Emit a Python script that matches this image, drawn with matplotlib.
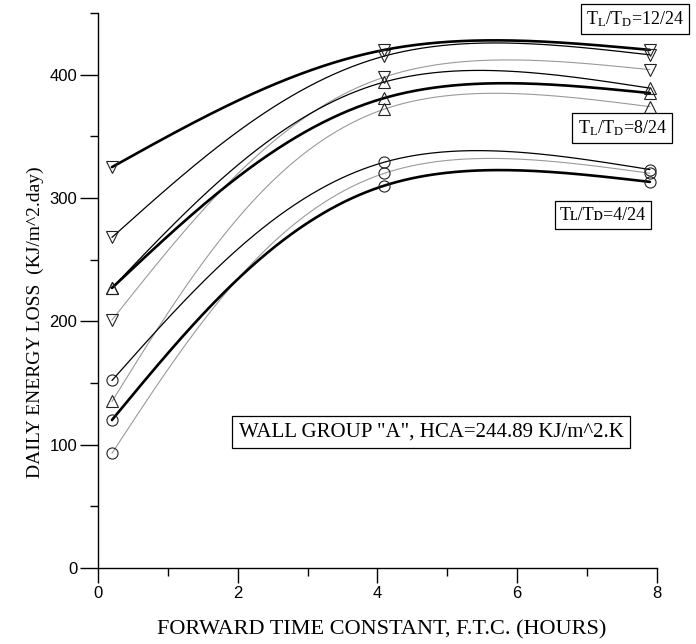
import numpy as np
import matplotlib
matplotlib.use("Agg")
import matplotlib.pyplot as plt
from matplotlib.ticker import MultipleLocator

plt.rcParams['mathtext.fontset'] = 'custom'
plt.rcParams['mathtext.rm'] = 'Liberation Serif'
plt.rcParams['mathtext.it'] = 'Liberation Serif:italic'

# forward time constant (hours) of the three computed cases
ftc = [0.2, 4.1, 7.9]

# daily energy loss, kJ/m^2.day, for T_L/T_D = 4/24 (circles)
loss_4_thick = [120, 310, 313]
loss_4_thin = [152, 329, 323]
loss_4_gray = [93, 320, 320]

# T_L/T_D = 8/24 (up triangles)
loss_8_thick = [227, 381, 385]
loss_8_thin = [227, 394, 389]
loss_8_gray = [135, 372, 374]

# T_L/T_D = 12/24 (down triangles)
loss_12_thick = [325, 420, 420]
loss_12_thin = [268, 415, 416]
loss_12_gray = [201, 398, 404]

styles = {
    'thick': dict(color='black', lw=1.9, zorder=4),
    'thin': dict(color='black', lw=0.9, zorder=3),
    'gray': dict(color='#9a9a9a', lw=0.8, zorder=2),
}

series = [
    (loss_4_thick, 'o', 'thick'), (loss_4_thin, 'o', 'thin'), (loss_4_gray, 'o', 'gray'),
    (loss_8_thick, '^', 'thick'), (loss_8_thin, '^', 'thin'), (loss_8_gray, '^', 'gray'),
    (loss_12_thick, 'v', 'thick'), (loss_12_thin, 'v', 'thin'), (loss_12_gray, 'v', 'gray'),
]


def spline_coef(t, v):
    # second derivatives of a natural cubic spline
    n = len(t)
    h = np.diff(t)
    A = np.zeros((n, n))
    r = np.zeros(n)
    A[0, 0] = A[-1, -1] = 1
    for i in range(1, n - 1):
        A[i, i - 1] = h[i - 1]
        A[i, i] = 2 * (h[i - 1] + h[i])
        A[i, i + 1] = h[i]
        r[i] = 6 * ((v[i + 1] - v[i]) / h[i] - (v[i] - v[i - 1]) / h[i - 1])
    return np.linalg.solve(A, r)


def spline_eval(t, v, M, ts):
    h = np.diff(t)
    out = np.empty_like(ts)
    for k, tv in enumerate(ts):
        i = min(np.searchsorted(t, tv, side='right') - 1, len(t) - 2)
        a = t[i + 1] - tv
        b = tv - t[i]
        out[k] = (M[i] * a ** 3 + M[i + 1] * b ** 3) / (6 * h[i]) \
            + (v[i] / h[i] - M[i] * h[i] / 6) * a + (v[i + 1] / h[i] - M[i + 1] * h[i] / 6) * b
    return out


def smooth_curve(x, y, sx=70.0, sy=1.233, num=300):
    # parametric spline, chord length measured on the page (px per unit)
    x = np.asarray(x, float)
    y = np.asarray(y, float)
    px, py = x * sx, y * sy
    t = np.concatenate([[0], np.cumsum(np.hypot(np.diff(px), np.diff(py)))])
    ts = np.linspace(0, t[-1], num)
    cx = spline_eval(t, px, spline_coef(t, px), ts)
    cy = spline_eval(t, py, spline_coef(t, py), ts)
    return cx / sx, cy / sy


fig = plt.figure(figsize=(6.96, 6.44), dpi=100)
ax = fig.add_axes([0.1408, 0.118, 0.803, 0.862])

for vals, mk, st in series:
    cx, cy = smooth_curve(ftc, vals)
    ax.plot(cx, cy, solid_capstyle='round', **styles[st])
    ax.plot(ftc, vals, ls='none', marker=mk, ms=8, mfc='none', mec='#222222',
            mew=0.8, zorder=5)

ax.set_xlim(0, 8)
ax.set_ylim(0, 450)
ax.xaxis.set_major_locator(MultipleLocator(2))
ax.xaxis.set_minor_locator(MultipleLocator(1))
ax.yaxis.set_major_locator(MultipleLocator(100))
ax.yaxis.set_minor_locator(MultipleLocator(50))
for s in ['top', 'right']:
    ax.spines[s].set_visible(False)
ax.spines['left'].set_linewidth(1.0)
ax.spines['bottom'].set_linewidth(1.0)
ax.tick_params(axis='y', which='major', direction='out', length=13, width=1.0, pad=2)
ax.tick_params(axis='y', which='minor', direction='out', length=6, width=1.0)
ax.tick_params(axis='x', which='major', direction='out', length=11, width=1.0, pad=2)
ax.tick_params(axis='x', which='minor', direction='out', length=6, width=1.0)
for lab in ax.get_xticklabels() + ax.get_yticklabels():
    lab.set_fontfamily('Liberation Sans')
    lab.set_fontsize(12)

fig.text(382 / 696, 1 - 630 / 644, 'FORWARD TIME CONSTANT, F.T.C. (HOURS)',
         family='Liberation Serif', fontsize=16, ha='center', va='center')
fig.text(35 / 696, 1 - 322 / 644, 'DAILY ENERGY LOSS  (KJ/m^2.day)',
         family='Liberation Serif', fontsize=14, ha='center', va='center', rotation=90)

box = dict(boxstyle='square,pad=0.3', fc='white', ec='black', lw=0.9)
fig.text(635 / 696, 1 - 19 / 644, r'T$_\mathregular{L}$/T$_\mathregular{D}$=12/24',
         family='Liberation Serif', fontsize=13, ha='center', va='center', bbox=box)
fig.text(622 / 696, 1 - 128 / 644, r'T$_\mathregular{L}$/T$_\mathregular{D}$=8/24',
         family='Liberation Serif', fontsize=13, ha='center', va='center', bbox=box)
fig.text(603 / 696, 1 - 215 / 644, 'T\u029f/T\u1d05=4/24',
         family=['Liberation Serif', 'DejaVu Serif', 'DejaVu Sans'], fontsize=13,
         ha='center', va='center', bbox=box)
fig.text(431 / 696, 1 - 432 / 644, 'WALL GROUP "A", HCA=244.89 KJ/m^2.K',
         family='Liberation Serif', fontsize=15, ha='center', va='center', bbox=box)

fig.savefig('out.png', dpi=100)
